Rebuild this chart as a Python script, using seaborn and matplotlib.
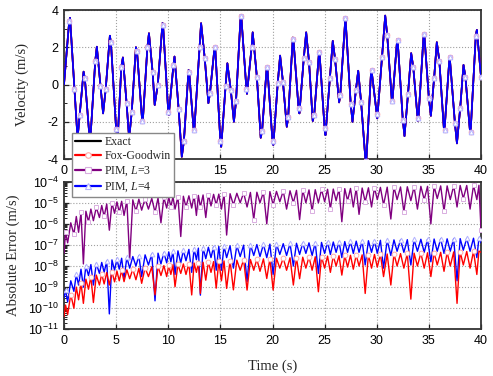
import numpy as np
import pandas as pd
import matplotlib
matplotlib.use("Agg")
import matplotlib.pyplot as plt
from matplotlib.lines import Line2D
from matplotlib.ticker import MultipleLocator, LogLocator, NullFormatter, FixedLocator
import seaborn as sns

# velocity response (m/s): values at the 0.5 s marker instants plus the peaks / troughs between them
t_vel = [0.0, 0.5, 0.58, 1.0, 1.3, 1.5, 1.88, 2.0, 2.5, 3.0, 3.15, 3.5, 3.75, 4.0, 4.4, 4.5,
         5.0, 5.15, 5.5, 5.65, 6.0, 6.25, 6.5, 6.9, 7.0, 7.5, 7.55, 8.0, 8.15, 8.5, 8.7, 9.0,
         9.45, 9.5, 10.0, 10.05, 10.5, 10.6, 11.0, 11.3, 11.5, 11.95, 12.0, 12.45, 12.5,
         13.0, 13.15, 13.5, 13.85, 14.0, 14.45, 14.5, 15.0, 15.08, 15.5, 15.67, 16.0, 16.3,
         16.5, 16.95, 17.0, 17.5, 17.55, 18.0, 18.1, 18.5, 18.87, 19.0, 19.45, 19.5, 20.0,
         20.08, 20.5, 20.73, 21.0, 21.37, 21.5, 21.95, 22.0, 22.5, 22.58, 23.0, 23.23, 23.5,
         23.86, 24.0, 24.47, 24.5, 25.0, 25.08, 25.5, 25.78, 26.0, 26.39, 26.5, 26.99, 27.0,
         27.5, 27.67, 28.0, 28.22, 28.5, 28.95, 29.0, 29.46, 29.5, 30.0, 30.05, 30.5, 30.81,
         31.0, 31.45, 31.5, 31.96, 32.0, 32.5, 32.66, 33.0, 33.3, 33.5, 33.94, 34.0, 34.5,
         34.55, 35.0, 35.19, 35.5, 35.76, 36.0, 36.45, 36.5, 36.98, 37.0, 37.5, 37.69, 38.0,
         38.32, 38.5, 38.96, 39.0, 39.5, 39.6, 40.0]
v_vel = [0.0, 3.4, 3.58, -0.24, -2.9, -1.64, 0.69, 0.33, -3.2, 1.26, 2.03, -0.08, -1.55, -0.26, 2.62, 2.27,
         -2.39, -2.9, 0.96, 1.45, -0.98, -2.9, -1.46, 2.0, 1.8, -1.96, -2.05, 2.0, 2.75, 0.67, -1.1, 0.0,
         3.3, 3.2, -1.46, -1.64, 1.05, 1.5, -1.34, -3.88, -3.04, 0.78, 0.69, -2.5, -2.45,
         2.03, 3.29, 1.41, -1.0, -0.47, 2.05, 2.0, -3.04, -3.34, -0.08, 1.14, -0.3, -2.0,
         -0.89, 3.74, 3.7, -0.26, -0.5, 2.03, 2.8, 0.42, -2.86, -2.5, 0.96, 0.93, -3.04,
         -3.25, 0.06, 1.55, 0.15, -2.27, -1.77, 2.52, 2.45, -1.28, -1.55, 1.41, 2.8, 1.23,
         -1.96, -1.64, 1.8, 1.77, -2.36, -2.72, 0.33, 2.34, 1.37, -0.96, -0.56, 3.59, 3.56,
         -1.03, -2.0, -0.3, 0.74, -0.96, -4.3, -4.1, 0.78, 0.76, -1.6, -1.82, 1.46, 3.7,
         2.66, -0.89, -0.87, 2.45, 2.4, -1.91, -2.77, -0.49, 1.68, 0.94, -1.96, -1.8, 2.7,
         2.76, -0.74, -1.68, 0.33, 2.27, 1.28, -2.47, -2.42, 1.5, 1.47, -2.09, -3.16, -1.28,
         1.05, 0.42, -2.63, -2.55, 2.63, 2.93, 0.42]

# absolute error, log10(m/s): envelope tops and cusp bottoms
t_err = [0.0, 0.15, 0.35, 0.65, 0.95, 1.18, 1.4, 1.63, 1.86, 2.1, 2.35, 2.58, 2.82, 3.1, 3.4, 3.62, 3.85, 4.1, 4.35,
         4.6, 4.85, 5.08, 5.3, 5.53, 5.76, 6.03, 6.3, 6.6, 6.9, 7.18, 7.45, 7.78, 8.1, 8.42, 8.73, 9.02, 9.3, 9.58, 9.85,
         10.05, 10.25, 10.45, 10.65, 10.93, 11.2, 11.45, 11.7, 11.98, 12.25, 12.48, 12.7, 12.89, 13.08, 13.34, 13.6, 13.85, 14.1, 14.35, 14.6,
         14.85, 15.1, 15.35, 15.6, 15.93, 16.25, 16.58, 16.9, 17.23, 17.56, 17.88, 18.2, 18.5, 18.8, 19.13, 19.45, 19.75, 20.06, 20.38, 20.7,
         21.03, 21.35, 21.68, 22.0, 22.3, 22.6, 22.9, 23.2, 23.5, 23.8, 24.1, 24.4, 24.7, 25.0, 25.28, 25.55, 25.83, 26.1, 26.38, 26.65,
         26.93, 27.2, 27.48, 27.75, 28.03, 28.3, 28.6, 28.89, 29.2, 29.5, 29.78, 30.05, 30.35, 30.65, 31.0, 31.35, 31.65, 31.95, 32.28, 32.6,
         32.93, 33.27, 33.58, 33.9, 34.23, 34.55, 34.87, 35.19, 35.5, 35.8, 36.13, 36.45, 36.75, 37.05, 37.38, 37.7, 38.0, 38.3, 38.63, 38.95,
         39.28, 39.6, 39.8, 40.0]
log_err_l3 = [-7.4, -6.4, -6.9, -5.95, -6.5, -5.65, -6.4, -5.45, -7.9, -5.4, -5.9, -5.3, -5.85, -5.22, -5.7, -5.13, -5.65, -5.06, -6.3,
              -5.0, -5.5, -4.96, -5.45, -4.93, -5.6, -4.9, -7.7, -4.86, -5.4, -4.83, -5.35, -4.81, -5.3, -4.79, -5.45, -4.77, -5.95, -4.75, -5.25,
              -4.73, -5.2, -4.72, -5.3, -4.71, -6.6, -4.69, -5.2, -4.67, -5.25, -4.66, -5.6, -4.65, -5.2, -4.63, -5.7, -4.61, -5.15, -4.6, -5.1,
              -4.59, -5.3, -4.58, -6.53, -4.57, -5.1, -4.55, -5.0, -4.53, -5.2, -4.51, -5.8, -4.5, -5.0, -4.49, -6.0, -4.47, -5.1, -4.46, -4.95,
              -4.44, -5.3, -4.43, -5.0, -4.41, -5.8, -4.4, -5.0, -4.39, -5.4, -4.38, -5.0, -4.37, -4.95, -4.36, -5.3, -4.35, -4.9, -4.34, -5.9,
              -4.33, -4.9, -4.32, -5.2, -4.31, -5.55, -4.3, -4.95, -4.29, -5.2, -4.28, -4.85, -4.27, -5.1, -4.26, -5.77, -4.25, -4.85, -4.25, -5.43,
              -4.24, -4.9, -4.23, -5.3, -4.22, -4.85, -4.22, -6.0, -4.21, -4.8, -4.2, -5.4, -4.2, -4.85, -4.19, -5.2, -4.18, -4.8, -4.18, -5.3,
              -4.17, -4.85, -4.17, -6.3]
log_err_l4 = [-9.5, -9.15, -9.7, -8.7, -9.2, -8.4, -8.9, -8.15, -9.0, -8.0, -8.45, -7.93, -8.9, -7.88, -8.35, -7.83, -8.3, -7.76, -10.27,
              -7.71, -8.2, -7.67, -8.15, -7.63, -8.6, -7.59, -8.1, -7.55, -8.0, -7.51, -8.5, -7.47, -7.95, -7.43, -9.65, -7.39, -7.9, -7.36, -7.85,
              -7.33, -7.8, -7.31, -8.4, -7.28, -7.85, -7.25, -7.75, -7.21, -8.3, -7.18, -7.7, -7.15, -9.38, -7.13, -7.65, -7.11, -7.6, -7.09, -8.2,
              -7.07, -8.2, -7.06, -7.6, -7.04, -8.1, -7.02, -7.55, -7.01, -8.74, -6.99, -7.5, -6.98, -7.55, -6.97, -7.6, -6.96, -8.4, -6.95, -7.45,
              -6.94, -7.5, -6.93, -8.0, -6.92, -7.45, -6.91, -7.4, -6.9, -7.5, -6.89, -8.35, -6.88, -7.4, -6.87, -7.45, -6.86, -7.35, -6.85, -7.6,
              -6.84, -7.35, -6.83, -7.4, -6.82, -7.35, -6.81, -7.95, -6.8, -7.35, -6.79, -7.4, -6.78, -8.1, -6.77, -7.5, -6.76, -7.3, -6.76, -7.35,
              -6.75, -7.95, -6.74, -7.3, -6.73, -7.35, -6.73, -7.8, -6.72, -7.3, -6.71, -7.4, -6.71, -7.3, -6.7, -8.7, -6.7, -7.25, -6.69, -7.3,
              -6.68, -7.6, -6.68, -6.9]
log_err_fg = [-10.4, -9.85, -10.3, -9.35, -10.0, -9.0, -9.6, -8.8, -9.77, -8.62, -9.1, -8.5, -9.73, -8.43, -8.9, -8.37, -8.85, -8.31, -8.9,
              -8.27, -8.75, -8.24, -8.7, -8.21, -8.74, -8.18, -8.6, -8.15, -8.65, -8.11, -8.82, -8.08, -8.5, -8.04, -9.37, -8.01, -8.45, -7.98, -8.5,
              -7.96, -8.4, -7.94, -8.98, -7.92, -8.35, -7.9, -8.4, -7.88, -9.37, -7.86, -8.3, -7.84, -9.3, -7.82, -8.67, -7.8, -8.3, -7.79, -9.05,
              -7.77, -8.7, -7.76, -9.06, -7.74, -9.13, -7.72, -8.2, -7.7, -9.14, -7.69, -8.2, -7.68, -8.25, -7.66, -8.59, -7.65, -9.14, -7.63, -8.1,
              -7.62, -8.2, -7.61, -8.9, -7.6, -8.6, -7.58, -8.1, -7.57, -8.2, -7.56, -9.22, -7.55, -8.1, -7.53, -8.3, -7.52, -8.0, -7.51, -8.43,
              -7.5, -8.05, -7.49, -8.15, -7.48, -8.0, -7.47, -9.3, -7.46, -8.1, -7.45, -8.05, -7.44, -8.5, -7.43, -8.9, -7.42, -8.0, -7.41, -8.1,
              -7.4, -9.57, -7.39, -8.0, -7.38, -8.1, -7.37, -8.5, -7.36, -7.95, -7.35, -8.25, -7.34, -8.0, -7.33, -9.77, -7.32, -7.95, -7.31, -8.1,
              -7.3, -8.4, -7.29, -7.35]

labels = ["Exact", "Fox-Goodwin", r"PIM, $L$=3", r"PIM, $L$=4"]
line_colors = ["#000000", "#ff0000", "#800080", "#0000ff"]
marker_edges = [None, "#ffa8a8", "#d9aee0", "#b4b4ff"]
marker_shapes = [None, "o", "s", "^"]

sns.set_theme(style="ticks")
plt.rcParams["font.family"] = ["Liberation Serif", "DejaVu Serif"]
plt.rcParams["mathtext.fontset"] = "custom"
plt.rcParams["mathtext.rm"] = "Liberation Serif"
plt.rcParams["mathtext.it"] = "Liberation Serif:italic"
plt.rcParams["axes.unicode_minus"] = False

df_vel = pd.DataFrame({"t": t_vel, "v": v_vel})
df_err = pd.DataFrame({"t": t_err,
                       "fg": np.power(10.0, log_err_fg),
                       "l3": np.power(10.0, log_err_l3),
                       "l4": np.power(10.0, log_err_l4)})
mark_idx = [i for i, t in enumerate(t_vel) if t > 0 and abs(t * 2 - round(t * 2)) < 1e-9]

fig = plt.figure(figsize=(4.93, 3.76), dpi=100)
ax1 = fig.add_axes([0.1298, 0.5771, 0.8459, 0.3963])
ax2 = fig.add_axes([0.1298, 0.1242, 0.8459, 0.3926])

# top: velocity, all solutions lie on the exact curve
for k in range(4):
    sns.lineplot(data=df_vel, x="t", y="v", ax=ax1, color=line_colors[k], lw=1.2,
                 estimator=None, sort=False, zorder=2 + k)
for k in range(1, 4):
    ax1.plot(df_vel["t"].iloc[mark_idx], df_vel["v"].iloc[mark_idx], ls="none",
             marker=marker_shapes[k], ms=3.4, mfc="white", mec=marker_edges[k], mew=0.7, zorder=7)

# bottom: absolute error
err_cols = [None, "fg", "l3", "l4"]
err_marks = [None, (3, 4), (1, 3), (1, 4)]
for k in [2, 3, 1]:
    sns.lineplot(data=df_err, x="t", y=err_cols[k], ax=ax2, color=line_colors[k], lw=1.0,
                 estimator=None, sort=False, marker=marker_shapes[k], markevery=err_marks[k],
                 ms=3.4, mfc="white", mec=marker_edges[k], mew=0.7, zorder=3)
ax2.set_yscale("log")

ax1.set_xlim(0, 40)
ax1.set_ylim(-4, 4)
ax1.xaxis.set_major_locator(MultipleLocator(5))
ax1.yaxis.set_major_locator(MultipleLocator(2))
ax1.yaxis.set_minor_locator(MultipleLocator(1))
ax1.set_xlabel("")
ax1.set_ylabel("Velocity (m/s)", fontsize=10.5, labelpad=13)

ax2.set_xlim(0, 40)
ax2.set_ylim(1e-11, 1e-4)
ax2.xaxis.set_major_locator(MultipleLocator(5))
ax2.yaxis.set_major_locator(FixedLocator([10.0 ** e for e in range(-11, -3)]))
ax2.yaxis.set_minor_locator(LogLocator(base=10, subs=np.arange(2, 10), numticks=20))
ax2.yaxis.set_minor_formatter(NullFormatter())
ax2.set_xlabel("Time (s)", fontsize=10.5, labelpad=9)
ax2.set_ylabel("Absolute Error (m/s)", fontsize=10.5, labelpad=6)

for ax in (ax1, ax2):
    ax.grid(True, which="major", ls=":", lw=0.8, color="#a0a0a0")
    ax.tick_params(which="both", direction="in", labelsize=9, labelfontfamily="Liberation Sans",
                   color="#222222", labelcolor="black", pad=4)
    ax.tick_params(which="major", length=3.5, width=0.9)
    ax.tick_params(which="minor", length=2, width=0.7)
    for sp in ax.spines.values():
        sp.set_visible(True)
        sp.set_color("#333333")
        sp.set_linewidth(1.3)
    if ax.get_legend() is not None:
        ax.get_legend().remove()

handles = [Line2D([], [], color=line_colors[0], lw=1.6)]
for k in range(1, 4):
    handles.append(Line2D([], [], color=line_colors[k], lw=1.6, marker=marker_shapes[k], ms=4,
                          mfc="white", mec=marker_edges[k], mew=0.8))
fig.legend(handles, labels, loc="upper left", bbox_to_anchor=(72 / 493, 1 - 133 / 376),
           frameon=True, fancybox=False, framealpha=1, edgecolor="#888888", fontsize=8.5,
           handlelength=2.2, handletextpad=0.3, labelspacing=0.2, borderpad=0.25,
           borderaxespad=0.0)

fig.savefig("out.png", dpi=100)
